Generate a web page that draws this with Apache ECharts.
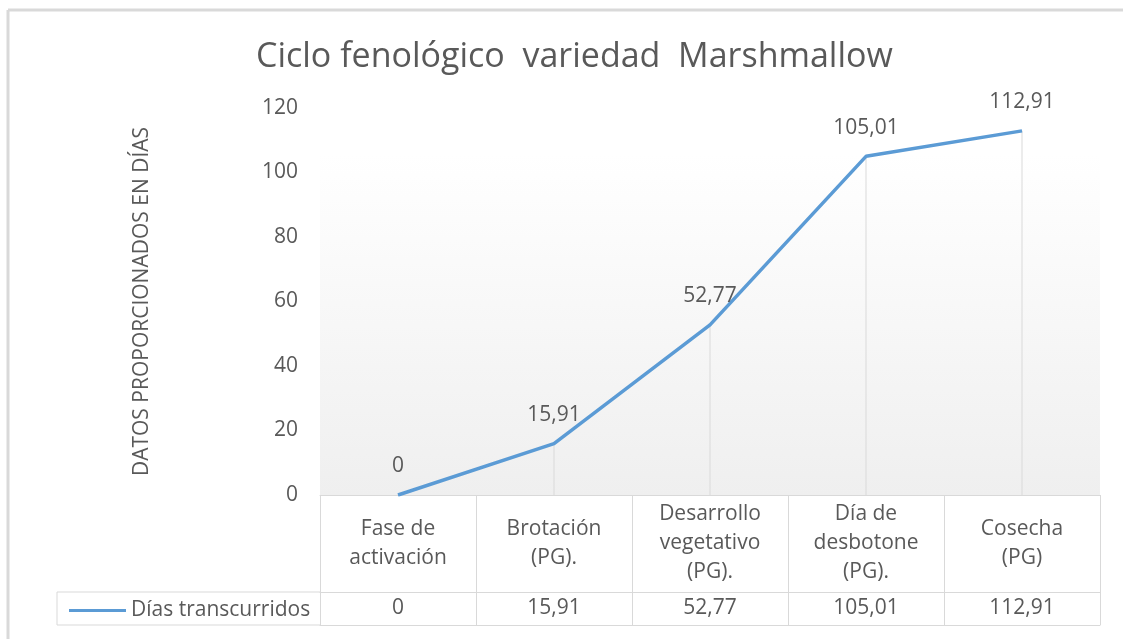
<!DOCTYPE html>
<html>
<head>
<meta charset="utf-8">
<script src="https://cdn.jsdelivr.net/npm/echarts@6/dist/echarts.min.js"></script>
<style>
	html, body {margin: 0; padding: 0; background: #fff;}
	#chart {width: 1123px; height: 639px;}
</style>
</head>
<body>
<div id="chart"></div>
<script>
var categories = ['Fase de\nactivación', 'Brotación\n(PG).', 'Desarrollo\nvegetativo\n(PG).', 'Día de\ndesbotone\n(PG).', 'Cosecha\n(PG)'];
var diasTranscurridos = [0, 15.91, 52.77, 105.01, 112.91];
var yTicks = {min: 0, max: 120, interval: 20};
var seriesName = 'Días transcurridos';

var textColor = '#595959';
var borderColor = '#d9d9d9';
var lineColor = '#5b9bd5';
var font = '"Open Sans", "Liberation Sans", sans-serif';

var gridLeft = 320, gridRight = 23, gridTop = 108, gridBottom = 144;
var headerRow = 97, valueRow = 33;

function fmt(v) {
	return String(v).replace('.', ',');
}

var chart = echarts.init(document.getElementById('chart'));
var rowTop = 639 - gridBottom + headerRow;
var tableBottom = rowTop + valueRow;

chart.setOption({
	animation: false,
	textStyle: {fontFamily: font},
	title: {
		text: 'Ciclo fenológico  variedad  Marshmallow',
		left: 251,
		top: 35,
		textStyle: {fontFamily: font, fontSize: 34, fontWeight: 'normal', color: textColor}
	},
	grid: {
		left: gridLeft,
		right: gridRight,
		top: gridTop,
		bottom: gridBottom,
		show: true,
		borderWidth: 0,
		backgroundColor: new echarts.graphic.LinearGradient(0, 0, 0, 1, [
			{offset: 0, color: '#ffffff'},
			{offset: 0.12, color: '#ffffff'},
			{offset: 1, color: '#efefef'}
		])
	},
	legend: {
		data: [seriesName],
		left: 64,
		top: rowTop + 3,
		icon: 'rect',
		itemWidth: 57,
		itemHeight: 3,
		itemGap: 6,
		textStyle: {fontFamily: font, fontSize: 21, color: textColor}
	},
	xAxis: [
		{
			type: 'category',
			data: categories,
			position: 'bottom',
			axisLine: {show: true, lineStyle: {color: borderColor, width: 1}},
			axisTick: {show: true, length: headerRow + valueRow, lineStyle: {color: borderColor}},
			axisLabel: {
				margin: headerRow / 2,
				verticalAlign: 'middle',
				lineHeight: 29,
				fontSize: 21,
				color: textColor,
				interval: 0
			},
			splitLine: {show: false}
		},
		{
			type: 'category',
			data: categories,
			position: 'bottom',
			offset: headerRow,
			axisLine: {show: true, lineStyle: {color: borderColor, width: 1}},
			axisTick: {show: false},
			axisLabel: {
				margin: valueRow / 2,
				verticalAlign: 'middle',
				fontSize: 21,
				color: textColor,
				interval: 0,
				formatter: function (value, index) {
					return fmt(diasTranscurridos[index]);
				}
			}
		},
		{
			type: 'category',
			data: categories,
			position: 'bottom',
			offset: headerRow + valueRow,
			axisLine: {show: true, lineStyle: {color: borderColor, width: 1}},
			axisTick: {show: false},
			axisLabel: {show: false}
		}
	],
	yAxis: {
		type: 'value',
		min: yTicks.min,
		max: yTicks.max,
		interval: yTicks.interval,
		name: 'DATOS PROPORCIONADOS EN DÍAS',
		nameLocation: 'middle',
		nameRotate: 90,
		nameGap: 167,
		nameTextStyle: {fontFamily: font, fontSize: 21, color: textColor},
		axisLine: {show: false},
		axisTick: {show: false},
		splitLine: {show: false},
		axisLabel: {margin: 22, fontSize: 21, color: textColor}
	},
	series: [
		{
			name: 'caida',
			type: 'bar',
			data: diasTranscurridos,
			barWidth: 1,
			silent: true,
			itemStyle: {color: borderColor},
			z: 1
		},
		{
			name: seriesName,
			type: 'line',
			data: diasTranscurridos,
			symbol: 'circle',
			symbolSize: 0,
			showSymbol: true,
			lineStyle: {color: lineColor, width: 3.5},
			itemStyle: {color: lineColor},
			label: {
				show: true,
				position: 'top',
				distance: 18,
				fontSize: 21,
				color: textColor,
				formatter: function (p) {
					return fmt(p.value);
				}
			},
			z: 3
		}
	],
	graphic: [
		// marco del gráfico
		{type: 'line', shape: {x1: 8, y1: 10, x2: 1123, y2: 10}, style: {stroke: borderColor, lineWidth: 3}},
		{type: 'line', shape: {x1: 8, y1: 10, x2: 8, y2: 639}, style: {stroke: borderColor, lineWidth: 3}},
		// celda de la leyenda
		{type: 'line', shape: {x1: 57, y1: rowTop, x2: gridLeft, y2: rowTop}, style: {stroke: borderColor, lineWidth: 1}},
		{type: 'line', shape: {x1: 57, y1: tableBottom, x2: gridLeft, y2: tableBottom}, style: {stroke: borderColor, lineWidth: 1}},
		{type: 'line', shape: {x1: 57, y1: rowTop, x2: 57, y2: tableBottom}, style: {stroke: borderColor, lineWidth: 1}}
	]
});
</script>
</body>
</html>
